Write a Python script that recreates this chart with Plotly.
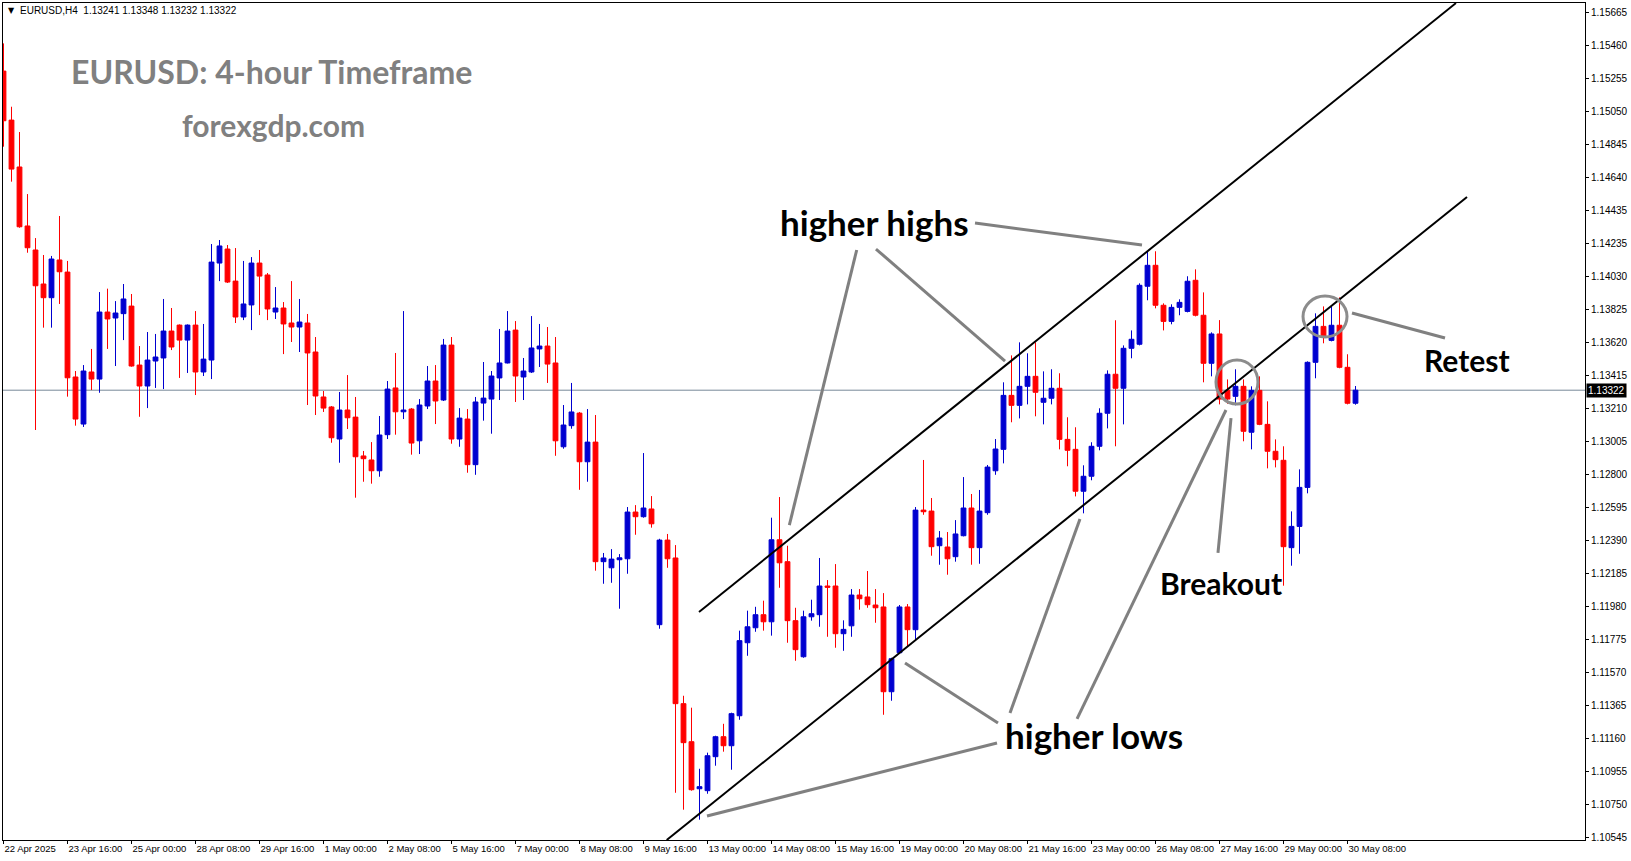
import plotly.graph_objects as go

# ---------------- data (EURUSD H4) ----------------
open_ = [1.15302,1.14998,1.14707,1.14341,1.14192,1.13981,1.13896,1.14130,1.14055,1.13404,
         1.13112,1.13435,1.13391,1.13807,1.13770,1.13797,1.13844,1.13478,1.13348,1.13503,
         1.13522,1.13689,1.13726,1.13633,1.13726,1.13435,1.13509,1.14111,1.14198,1.13999,
         1.13776,1.13851,1.14111,1.14037,1.13807,1.13832,1.13739,1.13714,1.13739,1.13559,
         1.13280,1.13218,1.13019,1.13199,1.13155,1.12914,1.12889,1.12822,1.13046,1.13336,
         1.13188,1.13205,1.13008,1.13224,1.13379,1.13261,1.13602,1.13019,1.13143,1.12860,
         1.13242,1.13267,1.13398,1.13491,1.13695,1.13404,1.13435,1.13578,1.13596,1.13491,
         1.12971,1.13102,1.13180,1.12878,1.13000,1.12258,1.12220,1.12270,1.12276,1.12566,
         1.12537,1.12585,1.11867,1.12392,1.12281,1.11377,1.11141,1.10849,1.10837,1.11048,
         1.11172,1.11116,1.11302,1.11755,1.11848,1.11929,1.11885,1.12394,1.12258,1.11892,
         1.11668,1.11916,1.11929,1.12107,1.12107,1.11811,1.11860,1.12051,1.12039,1.11989,
         1.11977,1.11451,1.11693,1.11977,1.11836,1.12578,1.12572,1.12357,1.12349,1.12289,
         1.12419,1.12591,1.12345,1.12562,1.12822,1.12955,1.13290,1.13228,1.13346,1.13408,
         1.13247,1.13272,1.13334,1.13017,1.12955,1.12695,1.12788,1.12974,1.13179,1.13421,
         1.13334,1.13582,1.13607,1.13967,1.14097,1.13849,1.13749,1.13836,1.13811,1.14004,
         1.13787,1.13489,1.13671,1.13321,1.13284,1.13346,1.13061,1.13321,1.13110,1.12943,
         1.12887,1.12345,1.12477,1.12719,1.13495,1.13718,1.13631,1.13725,1.13464,1.13241]
high = [1.15474,1.15081,1.14924,1.14539,1.14266,1.14161,1.14155,1.14403,1.14124,1.13441,
        1.13478,1.13578,1.13931,1.13952,1.13875,1.13981,1.13919,1.13596,1.13683,1.13671,
        1.13888,1.13832,1.13730,1.13730,1.13813,1.13733,1.14229,1.14254,1.14223,1.14204,
        1.14124,1.14148,1.14192,1.14049,1.13962,1.13869,1.13999,1.13888,1.13795,1.13652,
        1.13317,1.13224,1.13311,1.13416,1.13280,1.12945,1.13000,1.13162,1.13379,1.13553,
        1.13813,1.13211,1.13267,1.13472,1.13478,1.13640,1.13652,1.13211,1.13205,1.13280,
        1.13497,1.13441,1.13702,1.13813,1.13751,1.13522,1.13782,1.13733,1.13714,1.13652,
        1.13230,1.13367,1.13187,1.13205,1.13168,1.12312,1.12336,1.12305,1.12597,1.12609,
        1.12932,1.12665,1.12400,1.12430,1.12361,1.11426,1.11352,1.10973,1.11073,1.11178,
        1.11252,1.11321,1.11830,1.11954,1.11978,1.12016,1.12531,1.12659,1.12357,1.11972,
        1.11954,1.12022,1.12281,1.12144,1.12243,1.11894,1.12088,1.12088,1.12200,1.12088,
        1.12063,1.11662,1.11989,1.11995,1.12597,1.12889,1.12653,1.12448,1.12442,1.12516,
        1.12783,1.12678,1.12703,1.12858,1.13019,1.13371,1.13538,1.13619,1.13551,1.13619,
        1.13439,1.13452,1.13427,1.13154,1.13092,1.12856,1.12999,1.13210,1.13445,1.13756,
        1.13600,1.13693,1.13985,1.14184,1.14184,1.13861,1.13855,1.13886,1.14029,1.14072,
        1.13929,1.13681,1.13757,1.13389,1.13452,1.13389,1.13346,1.13408,1.13253,1.13017,
        1.12974,1.12570,1.12831,1.13501,1.13799,1.13842,1.13842,1.13898,1.13545,1.13348]
low = [1.14833,1.14616,1.14330,1.14175,1.13075,1.13710,1.13710,1.13857,1.13282,1.13102,
       1.13094,1.13323,1.13306,1.13578,1.13472,1.13633,1.13468,1.13157,1.13211,1.13336,
       1.13329,1.13571,1.13398,1.13429,1.13292,1.13410,1.13391,1.13999,1.13987,1.13739,
       1.13757,1.13695,1.13788,1.13757,1.13764,1.13546,1.13621,1.13559,1.13230,1.13168,
       1.13187,1.12996,1.12872,1.13081,1.12655,1.12754,1.12742,1.12785,1.13019,1.13046,
       1.13143,1.12922,1.12926,1.13205,1.13112,1.13255,1.12990,1.12971,1.12810,1.12797,
       1.13133,1.13052,1.13261,1.13488,1.13249,1.13261,1.13429,1.13466,1.13367,1.12915,
       1.12959,1.13083,1.12704,1.12754,1.12202,1.12121,1.12127,1.11966,1.12183,1.12425,
       1.12531,1.12469,1.11842,1.12220,1.10824,1.10719,1.10837,1.10657,1.10818,1.10992,
       1.11079,1.10967,1.11277,1.11674,1.11823,1.11830,1.11799,1.12096,1.11755,1.11643,
       1.11662,1.11892,1.11854,1.11792,1.11724,1.11705,1.11792,1.11960,1.11972,1.11879,
       1.11308,1.11395,1.11687,1.11730,1.11768,1.12549,1.12295,1.12239,1.12177,1.12258,
       1.12415,1.12239,1.12245,1.12549,1.12797,1.12868,1.13123,1.13147,1.13234,1.13160,
       1.13110,1.13234,1.12955,1.12850,1.12663,1.12558,1.12763,1.12949,1.13085,1.12974,
       1.13110,1.13520,1.13600,1.13880,1.13830,1.13693,1.13731,1.13787,1.13805,1.13780,
       1.13371,1.13408,1.13234,1.13238,1.13228,1.13005,1.12955,1.13105,1.12837,1.12843,
       1.12109,1.12233,1.12307,1.12682,1.13396,1.13613,1.13625,1.13458,1.13234,1.13232]
close = [1.14994,1.14694,1.14336,1.14206,1.13970,1.13896,1.14136,1.14057,1.13399,1.13143,
         1.13441,1.13391,1.13807,1.13764,1.13801,1.13888,1.13472,1.13348,1.13509,1.13528,
         1.13689,1.13590,1.13633,1.13726,1.13435,1.13515,1.14117,1.14217,1.13993,1.13776,
         1.13857,1.14111,1.14030,1.13826,1.13832,1.13733,1.13714,1.13745,1.13553,1.13286,
         1.13211,1.13027,1.13199,1.13151,1.12909,1.12897,1.12822,1.13044,1.13329,1.13188,
         1.13199,1.12994,1.13230,1.13379,1.13255,1.13602,1.13019,1.13149,1.12860,1.13249,
         1.13273,1.13410,1.13491,1.13689,1.13410,1.13441,1.13584,1.13596,1.13484,1.13008,
         1.13106,1.13187,1.12878,1.13000,1.12258,1.12281,1.12274,1.12282,1.12566,1.12537,
         1.12591,1.12493,1.12392,1.12276,1.11377,1.11135,1.10843,1.10862,1.11054,1.11172,
         1.11116,1.11315,1.11768,1.11854,1.11929,1.11885,1.12394,1.12251,1.11892,1.11712,
         1.11916,1.11935,1.12107,1.12099,1.11811,1.11838,1.12051,1.12028,1.11991,1.11972,
         1.11451,1.11656,1.11977,1.11836,1.12578,1.12568,1.12351,1.12405,1.12276,1.12430,
         1.12591,1.12345,1.12572,1.12845,1.12957,1.13290,1.13228,1.13346,1.13408,1.13309,
         1.13272,1.13334,1.13017,1.12949,1.12695,1.12788,1.12974,1.13179,1.13421,1.13334,
         1.13582,1.13638,1.13973,1.14097,1.13849,1.13749,1.13836,1.13867,1.13998,1.13787,
         1.13489,1.13671,1.13267,1.13267,1.13346,1.13067,1.13321,1.13110,1.12943,1.12891,
         1.12351,1.12477,1.12719,1.13495,1.13718,1.13650,1.13725,1.13464,1.13241,1.13322]
bar_index = list(range(len(close)))

date_labels = ["22 Apr 2025", "23 Apr 16:00", "25 Apr 00:00", "28 Apr 08:00", "29 Apr 16:00",
               "1 May 00:00", "2 May 08:00", "5 May 16:00", "7 May 00:00", "8 May 08:00",
               "9 May 16:00", "13 May 00:00", "14 May 08:00", "15 May 16:00", "19 May 00:00",
               "20 May 08:00", "21 May 16:00", "23 May 00:00", "26 May 08:00", "27 May 16:00",
               "29 May 00:00", "30 May 08:00"]
bars_per_label = 8
price_ticks = [1.15665, 1.15460, 1.15255, 1.15050, 1.14845, 1.14640, 1.14435, 1.14235,
               1.14030, 1.13825, 1.13620, 1.13415, 1.13210, 1.13005, 1.12800, 1.12595,
               1.12390, 1.12185, 1.11980, 1.11775, 1.11570, 1.11365, 1.11160, 1.10955,
               1.10750, 1.10545]

# drawn analysis objects (bar index, price)
channel_upper = [(86.94, 1.11946), (181.56, 1.15724)]
channel_lower = [(82.90, 1.10531), (182.94, 1.14521)]
pointers = [  # gray callout lines
    [(106.65, 1.14192), (98.23, 1.12485)],
    [(109.06, 1.14198), (125.19, 1.13503)],
    [(121.44, 1.14359), (142.31, 1.14223)],
    [(112.69, 1.11629), (124.31, 1.11257)],
    [(87.94, 1.10680), (124.19, 1.11133)],
    [(125.81, 1.11319), (134.56, 1.12523)],
    [(134.19, 1.11282), (152.81, 1.13199)],
    [(151.81, 1.12312), (153.44, 1.13149)],
    [(168.56, 1.13801), (180.19, 1.13646)],
]
circles = [((151.56, 1.13509), (156.81, 1.13236)),
           ((162.44, 1.13906), (167.94, 1.13652))]
labels = [("higher highs", 108.9, 1.14365, 35), ("higher lows", 136.25, 1.11182, 35),
          ("Breakout", 152.19, 1.12125, 30), ("Retest", 182.88, 1.13509, 30)]

# ---------------- figure ----------------
BLUE = "#0000d0"
RED = "#ff0000"
W, H = 1631, 861

fig = go.Figure()
fig.add_trace(go.Candlestick(
    x=bar_index, open=open_, high=high, low=low, close=close,
    increasing=dict(line=dict(color=BLUE, width=1), fillcolor=BLUE),
    decreasing=dict(line=dict(color=RED, width=1), fillcolor=RED),
    whiskerwidth=0, showlegend=False, hoverinfo="skip"))

shapes = []
# current price line
shapes.append(dict(type="line", xref="paper", x0=0, x1=1, yref="y", y0=close[-1], y1=close[-1],
                   line=dict(color="#778899", width=1), layer="below"))
for (x0, y0), (x1, y1) in [channel_upper, channel_lower]:
    shapes.append(dict(type="line", xref="x", yref="y", x0=x0, y0=y0, x1=x1, y1=y1,
                       line=dict(color="black", width=2)))
for (x0, y0), (x1, y1) in pointers:
    shapes.append(dict(type="line", xref="x", yref="y", x0=x0, y0=y0, x1=x1, y1=y1,
                       line=dict(color="#808080", width=3)))
for (x0, y0), (x1, y1) in circles:
    shapes.append(dict(type="circle", xref="x", yref="y", x0=x0, y0=y0, x1=x1, y1=y1,
                       line=dict(color="#8c8c8c", width=3)))

annotations = []
for txt, x, y, fs in labels:
    annotations.append(dict(text="<b>%s</b>" % txt, x=x, y=y, xref="x", yref="y",
                            showarrow=False, font=dict(family="Lato", size=fs, color="black")))
annotations.append(dict(text="<b>EURUSD: 4-hour Timeframe</b>", x=33.56, y=1.15302, xref="x", yref="y",
                        showarrow=False, font=dict(family="Lato", size=32, color="#808080")))
annotations.append(dict(text="<b>forexgdp.com</b>", x=33.69, y=1.14967, xref="x", yref="y",
                        showarrow=False, font=dict(family="Lato", size=30, color="#808080")))
# header
annotations.append(dict(text="▼", x=0, y=1, xref="paper", yref="paper", xanchor="left", yanchor="top",
                        xshift=3, yshift=-1, showarrow=False,
                        font=dict(family="DejaVu Sans", size=8, color="black")))
annotations.append(dict(text="EURUSD,H4  %.5f %.5f %.5f %.5f" % (open_[-1], high[-1], low[-1], close[-1]),
                        x=0, y=1, xref="paper", yref="paper", xanchor="left", yanchor="top",
                        xshift=15, yshift=0, showarrow=False,
                        font=dict(family="Liberation Sans", size=10, color="black")))
# current price tag
annotations.append(dict(text="%.5f" % close[-1], x=1, y=close[-1], xref="paper", yref="y",
                        xanchor="left", yanchor="middle", xshift=1, showarrow=False,
                        bgcolor="black", borderpad=1,
                        font=dict(family="Liberation Sans", size=10, color="white")))

plot_left, plot_right, plot_top, plot_bottom = 3, 1585, 3, 840
px_per_bar = 8.0
x0_range = -0.0625
x1_range = x0_range + (plot_right - plot_left) / px_per_bar
price_per_px = 0.00006205
y_lo = 1.10531
y_hi = y_lo + (plot_bottom - plot_top) * price_per_px

fig.update_layout(
    width=W, height=H, autosize=False,
    margin=dict(l=plot_left, r=W - plot_right, t=plot_top, b=H - plot_bottom, pad=0),
    paper_bgcolor="white", plot_bgcolor="white",
    boxgap=0.4, boxgroupgap=0,
    shapes=shapes, annotations=annotations,
    xaxis=dict(range=[x0_range, x1_range], rangeslider=dict(visible=False), automargin=False,
               tickvals=[i * bars_per_label for i in range(len(date_labels))], ticktext=date_labels,
               tickangle=0, ticklabelposition="outside right", ticks="outside", ticklen=3,
               tickcolor="black", ticklabeloverflow="allow",
               showgrid=False, zeroline=False, showline=True, linecolor="black", linewidth=1, mirror=True,
               tickfont=dict(family="Liberation Sans", size=9.5, color="black")),
    yaxis=dict(range=[y_lo, y_hi], side="right", tickvals=price_ticks, automargin=False,
               ticktext=["%.5f" % v for v in price_ticks],
               ticks="outside", ticklen=3, tickcolor="black",
               showgrid=False, zeroline=False, showline=True, linecolor="black", linewidth=1, mirror=True,
               tickfont=dict(family="Liberation Sans", size=10, color="black")),
)

fig.write_html("out.html", config={"displayModeBar": False},
               post_script="document.body.style.margin='0';document.body.style.overflow='hidden';")
